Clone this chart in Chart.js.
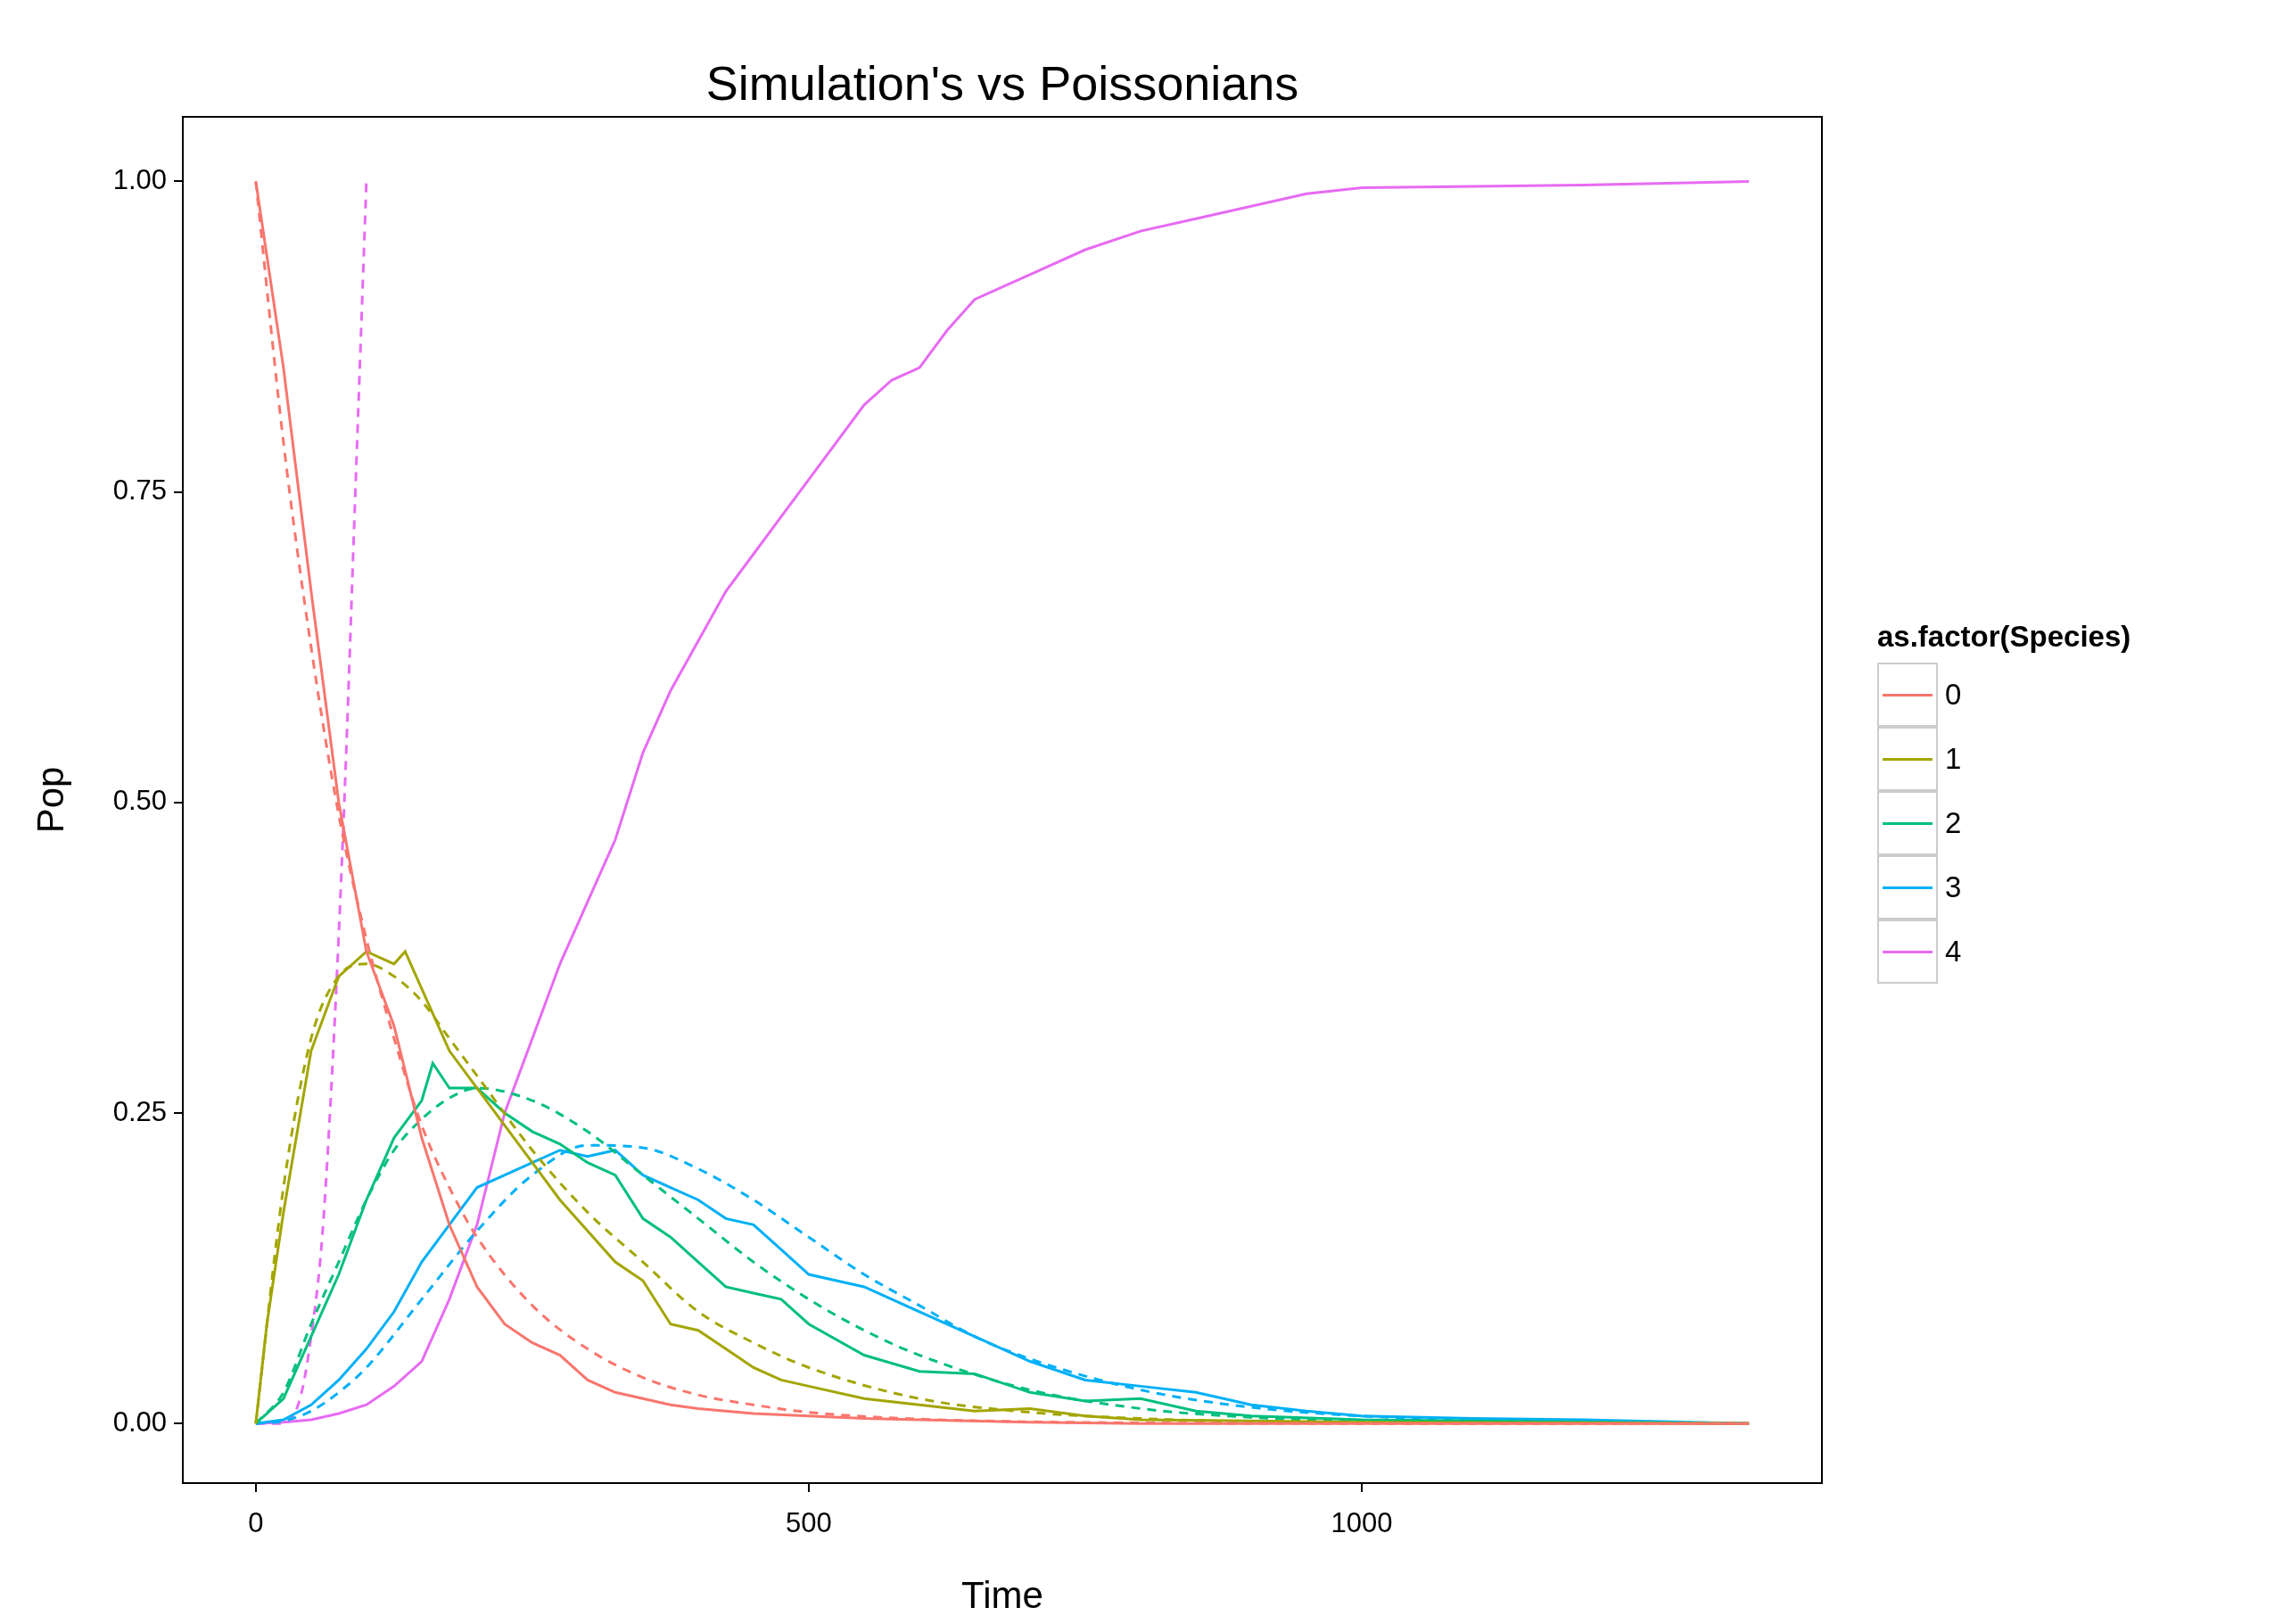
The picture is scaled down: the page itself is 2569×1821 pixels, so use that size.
<!DOCTYPE html>
<html><head><meta charset="utf-8">
<script src="https://cdn.jsdelivr.net/npm/chart.js@4"></script>
<style>
body{margin:0;background:#fff;font-family:"Liberation Sans",Arial,sans-serif}
#wrap{position:relative;width:2569px;height:1821px}
#title{position:absolute;top:62px;left:205px;width:1838px;text-align:center;font-size:54px}
#legend{position:absolute;left:2105px;top:695px;font-size:33px}
#legend .h{font-weight:bold;margin-bottom:10px}
.row{display:flex;align-items:center;height:72px}
.key{width:68px;height:72px;border:2px solid #ccc;display:flex;align-items:center;justify-content:center;margin-right:8px;box-sizing:border-box}
.key span{display:block;width:56px;height:3px}
</style></head>
<body><div id="wrap"><canvas id="c" width="2569" height="1821" style="width:2569px;height:1821px"></canvas>
<div id="title">Simulation's vs Poissonians</div>
<div id="legend"><div class="h">as.factor(Species)</div><div id="rows"></div></div></div>
<script>
const species=["0","1","2","3","4"];
const colors=["#F8766D","#A3A500","#00BF7D","#00B0F6","#E76BF3"];
const xTicks=[0,500,1000];
const yTicks=[0,0.25,0.5,0.75,1];
// simulation series
const sim0T=[0,25,50,75,100,125,150,175,200,225,250,275,300,325,350,375,400,450,500,550,600,700,800,1350];
const sim0Y=[1.0,0.85,0.67,0.5,0.38,0.32,0.23,0.16,0.11,0.08,0.065,0.055,0.035,0.025,0.02,0.015,0.012,0.008,0.006,0.004,0.003,0.001,0,0];
const sim1T=[0,10,25,50,75,100,125,135,150,175,200,225,250,275,300,325,350,375,400,425,450,475,500,550,600,650,700,750,800,900,1000,1350];
const sim1Y=[0,0.08,0.17,0.3,0.36,0.38,0.37,0.38,0.35,0.3,0.27,0.24,0.21,0.18,0.155,0.13,0.115,0.08,0.075,0.06,0.045,0.035,0.03,0.02,0.015,0.01,0.012,0.006,0.003,0.002,0.001,0];
const sim2T=[0,25,50,75,100,125,150,160,175,200,225,250,275,300,325,350,375,400,425,450,475,500,550,600,650,700,750,800,850,900,1000,1100,1350];
const sim2Y=[0,0.02,0.07,0.12,0.18,0.23,0.26,0.29,0.27,0.27,0.25,0.235,0.225,0.21,0.2,0.165,0.15,0.13,0.11,0.105,0.1,0.08,0.055,0.042,0.04,0.025,0.018,0.02,0.01,0.006,0.003,0.002,0];
const sim3T=[0,25,50,75,100,125,150,175,200,225,250,275,300,325,350,375,400,425,450,475,500,525,550,575,600,650,700,750,800,850,900,950,1000,1100,1200,1350];
const sim3Y=[0,0.003,0.015,0.035,0.06,0.09,0.13,0.16,0.19,0.2,0.21,0.22,0.215,0.22,0.2,0.19,0.18,0.165,0.16,0.14,0.12,0.115,0.11,0.1,0.09,0.07,0.05,0.035,0.03,0.025,0.015,0.01,0.006,0.004,0.003,0];
const sim4T=[0,25,50,75,100,125,150,175,200,225,250,275,300,325,350,375,400,425,450,475,500,525,550,575,600,625,650,700,750,800,850,900,950,1000,1100,1200,1350];
const sim4Y=[0,0.001,0.003,0.008,0.015,0.03,0.05,0.1,0.16,0.25,0.31,0.37,0.42,0.47,0.54,0.59,0.63,0.67,0.7,0.73,0.76,0.79,0.82,0.84,0.85,0.88,0.905,0.925,0.945,0.96,0.97,0.98,0.99,0.995,0.996,0.997,1.0];
// poisson series
const poi0T=[0,25,50,75,100,125,150,175,200,250,300,350,400,450,500,600,700,800,1000,1350];
const poi0Y=[1,0.79,0.625,0.49,0.39,0.31,0.24,0.19,0.15,0.095,0.06,0.037,0.023,0.015,0.009,0.0035,0.0014,0.0005,0,0];
const poi1T=[0,25,50,75,100,125,150,175,200,250,300,350,400,450,500,600,700,800,900,1000,1350];
const poi1Y=[0,0.19,0.31,0.36,0.37,0.36,0.34,0.31,0.28,0.22,0.17,0.13,0.09,0.065,0.045,0.02,0.009,0.004,0.0015,0.0005,0];
const poi2T=[0,25,50,75,100,125,150,175,200,250,300,350,400,450,500,550,600,700,800,900,1000,1350];
const poi2Y=[0,0.025,0.08,0.13,0.18,0.22,0.245,0.262,0.27,0.26,0.235,0.2,0.165,0.13,0.1,0.075,0.055,0.027,0.012,0.005,0.002,0];
const poi3T=[0,25,50,75,100,150,200,250,300,350,400,450,500,550,600,650,700,800,900,1000,1100,1200,1350];
const poi3Y=[0,0.002,0.01,0.025,0.045,0.1,0.155,0.2,0.224,0.222,0.205,0.18,0.15,0.12,0.095,0.07,0.052,0.027,0.013,0.006,0.003,0.001,0];
const poi4T=[0,25,40,50,60,70,80,90,100];
const poi4Y=[0,0,0.02,0.07,0.15,0.3,0.5,0.75,1.0];

const simT=[sim0T,sim1T,sim2T,sim3T,sim4T],simY=[sim0Y,sim1Y,sim2Y,sim3Y,sim4Y];
const poiT=[poi0T,poi1T,poi2T,poi3T,poi4T],poiY=[poi0Y,poi1Y,poi2Y,poi3Y,poi4Y];
const pts=(t,y)=>t.map((v,i)=>({x:v,y:y[i]}));
const datasets=[];
for(let i=0;i<5;i++){
  datasets.push({data:pts(poiT[i],poiY[i]),borderColor:colors[i],borderDash:[10,8],borderWidth:3,pointRadius:0,cubicInterpolationMode:'monotone'});
  datasets.push({data:pts(simT[i],simY[i]),borderColor:colors[i],borderWidth:3,pointRadius:0,tension:0});
}
const rows=document.getElementById('rows');
species.forEach((s,i)=>{rows.innerHTML+=`<div class="row"><div class="key"><span style="background:${colors[i]}"></span></div>${s}</div>`;});
const box={id:'box',afterDraw(c){const a=c.chartArea,g=c.ctx;g.save();g.strokeStyle='#000';g.lineWidth=2;g.strokeRect(a.left,a.top,a.right-a.left,a.bottom-a.top);g.restore();}};
const font={family:'"Liberation Sans",Arial',size:31};
new Chart(document.getElementById('c'),{type:'line',data:{datasets},plugins:[box],
options:{responsive:false,animation:false,devicePixelRatio:1,
layout:{padding:{top:131,right:526,left:30,bottom:0}},
plugins:{legend:{display:false},tooltip:{enabled:false}},
scales:{
x:{type:'linear',min:-66,max:1416,afterBuildTicks:s=>{s.ticks=xTicks.map(v=>({value:v}));},afterFit:s=>{s.height=158;},
 ticks:{color:'#000',font,padding:18,callback:v=>String(v)},grid:{drawOnChartArea:false,color:'#000',tickLength:10,lineWidth:2},border:{color:'#000',width:2},
 title:{display:true,text:'Time',color:'#000',font:{family:'"Liberation Sans",Arial',size:42},padding:{top:4}}},
y:{min:-0.048,max:1.052,afterBuildTicks:s=>{s.ticks=yTicks.map(v=>({value:v}));},afterFit:s=>{s.width=175;},
 ticks:{color:'#000',font,padding:8,callback:v=>v.toFixed(2)},grid:{drawOnChartArea:false,color:'#000',tickLength:10,lineWidth:2},border:{color:'#000',width:2},
 title:{display:true,text:'Pop',color:'#000',font:{family:'"Liberation Sans",Arial',size:42},padding:{bottom:0}}}
}}});
</script></body></html>
